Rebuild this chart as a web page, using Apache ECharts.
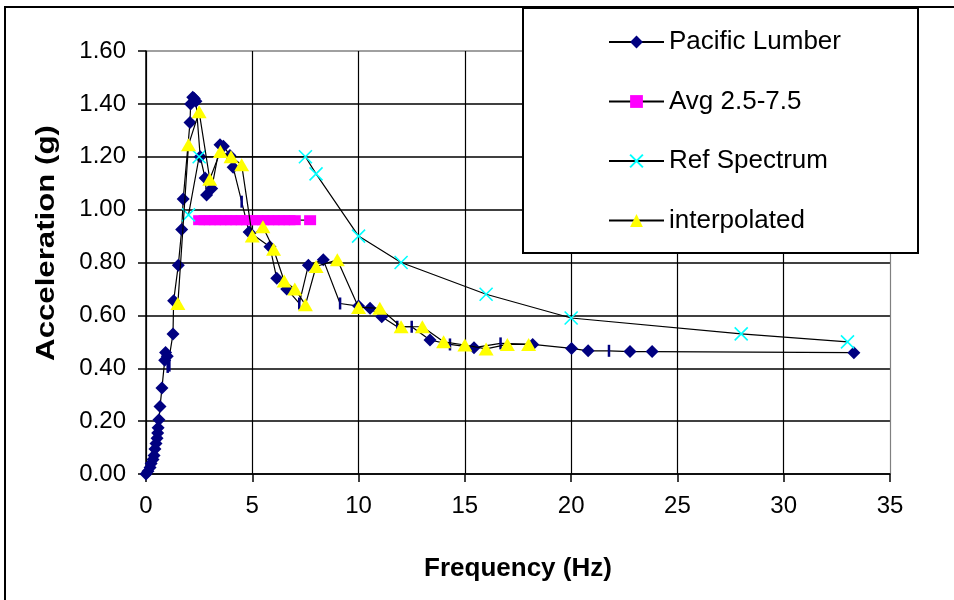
<!DOCTYPE html>
<html><head><meta charset="utf-8">
<script src="https://cdn.jsdelivr.net/npm/echarts@6/dist/echarts.min.js"></script>
<style>html,body{margin:0;padding:0;background:#fff}#c{width:954px;height:600px}</style>
</head><body><div id="c"></div>
<script>
// ---- data ----
const pacificFreq = [0,0.09,0.19,0.24,0.33,0.38,0.42,0.47,0.52,0.55,0.57,0.61,0.66,0.75,0.88,0.92,1.0,1.02,1.1,1.27,1.3,1.52,1.68,1.75,2.07,2.1,2.2,2.27,2.35,2.55,2.78,2.85,3.09,3.48,3.64,3.95,4.1,4.5,4.85,5.83,6.15,6.62,7.21,7.64,8.34,9.13,10.0,10.54,11.09,11.82,12.5,13.36,14.3,15.43,16.68,18.19,20.02,20.8,21.78,22.77,23.81,33.3];
const pacificAcc  = [0,0.01,0.025,0.04,0.055,0.07,0.095,0.115,0.135,0.155,0.175,0.205,0.255,0.325,0.43,0.46,0.445,0.405,0.41,0.53,0.655,0.79,0.925,1.04,1.33,1.40,1.425,1.42,1.41,1.2,1.12,1.055,1.08,1.245,1.24,1.205,1.16,1.03,0.915,0.86,0.74,0.70,0.645,0.79,0.81,0.645,0.635,0.627,0.595,0.557,0.557,0.507,0.49,0.478,0.494,0.49,0.475,0.466,0.466,0.463,0.463,0.459];
// points of the Pacific Lumber series shown with a dash marker
const pacificDashFreq = [1.02,1.1,4.5,7.21,9.13,11.82,12.5,14.3,16.68,21.78];

const avgFreq = [2.5,2.75,3,3.25,3.5,3.75,4,4.25,4.5,4.75,5,5.25,5.5,5.75,6,6.25,6.5,6.75,7,7.72];
const avgAcc  = [0.96,0.96,0.96,0.96,0.96,0.96,0.96,0.96,0.96,0.96,0.96,0.96,0.96,0.96,0.96,0.96,0.96,0.96,0.96,0.96];

const refFreq = [2,2.5,7.5,8,10,12,16,20,28,33];
const refAcc  = [0.98,1.2,1.2,1.135,0.9,0.8,0.68,0.59,0.53,0.50];

const interpFreq = [1.5,2,2.5,3,3.5,4,4.5,5,5.5,6,6.5,7,7.5,8,9,10,11,12,13,14,15,16,17,18];
const interpAcc  = [0.645,1.245,1.37,1.115,1.22,1.20,1.17,0.90,0.935,0.85,0.73,0.70,0.64,0.785,0.81,0.63,0.627,0.557,0.557,0.50,0.488,0.473,0.49,0.49];

const seriesNames = ['Pacific Lumber','Avg 2.5-7.5','Ref Spectrum','interpolated'];
const xTicks = [0,5,10,15,20,25,30,35];
const yTicks = ['0.00','0.20','0.40','0.60','0.80','1.00','1.20','1.40','1.60'];
const xTitle = 'Frequency (Hz)';
const yTitle = 'Acceleration (g)';

// ---- chart ----
const FONT = 'Liberation Sans, Arial, sans-serif';
const zip = (a,b) => a.map((v,i)=>[v,b[i]]);
const pacificData = pacificFreq.map((f,i)=>{
  const isDash = pacificDashFreq.indexOf(f) >= 0;
  return isDash ? {value:[f,pacificAcc[i]], symbol:'rect', symbolSize:[2.5,12]} : {value:[f,pacificAcc[i]]};
});
const crossPath = 'path://M0,0L10,10M10,0L0,10';

const chart = echarts.init(document.getElementById('c'), null, {renderer:'canvas'});
chart.setOption({
  animation:false,
  backgroundColor:'#fff',
  grid:{left:146, right:64, top:51, bottom:126, containLabel:false},
  xAxis:{
    type:'value', min:xTicks[0], max:xTicks[xTicks.length-1], interval:5,
    axisLine:{show:true, onZero:false, lineStyle:{color:'#000', width:1.5}},
    axisTick:{show:true, inside:false, length:8, lineStyle:{color:'#000', width:1.5}},
    axisLabel:{color:'#000', fontFamily:FONT, fontSize:24, margin:20},
    splitLine:{show:true, lineStyle:{color:['#000','#000','#000','#000','#000','#000','#000','#808080'], width:1.2}},
    name:xTitle, nameLocation:'middle', nameGap:82,
    nameTextStyle:{color:'#000', fontFamily:FONT, fontSize:26, fontWeight:'bold'}
  },
  yAxis:{
    type:'value', min:0, max:1.6, interval:0.2,
    axisLine:{show:true, onZero:false, lineStyle:{color:'#000', width:1.5}},
    axisTick:{show:true, inside:false, length:8, lineStyle:{color:'#000', width:1.5}},
    axisLabel:{color:'#000', fontFamily:FONT, fontSize:24, margin:20,
      formatter:(v)=>yTicks[Math.round(v/0.2)]},
    splitLine:{show:true, lineStyle:{color:['#000','#000','#000','#000','#000','#000','#000','#000','#808080'], width:1.6}}
  },
  legend:{
    orient:'vertical', left:603, top:22, z:20,
    itemWidth:55, itemHeight:16, itemGap:29.5,
    textStyle:{color:'#000', fontFamily:FONT, fontSize:26, lineHeight:30},
    data:seriesNames
  },
  graphic:[
    {type:'rect', shape:{x:5, y:7, width:1000, height:700}, style:{fill:'none', stroke:'#000', lineWidth:2}, z:-10},
    {type:'rect', shape:{x:523, y:8, width:395, height:245}, style:{fill:'#fff', stroke:'#000', lineWidth:2}, z:6},
    {type:'text', x:47, y:243, rotation:Math.PI/2, scaleX:1.2, style:{text:yTitle, fill:'#000', font:'bold 26px '+FONT, align:'center', verticalAlign:'middle'}, z:10}
  ],
  series:[
    {name:seriesNames[0], type:'line', data:pacificData, symbol:'diamond', symbolSize:13,
     lineStyle:{color:'#000', width:1.2}, itemStyle:{color:'#000080'}, z:2},
    {name:seriesNames[1], type:'line', data:zip(avgFreq,avgAcc), symbol:'rect', symbolSize:[12,10],
     lineStyle:{color:'#000', width:1.2}, itemStyle:{color:'#ff00ff'}, z:3},
    {name:seriesNames[2], type:'line', data:zip(refFreq,refAcc), symbol:crossPath, symbolSize:13,
     lineStyle:{color:'#000', width:1.2}, itemStyle:{color:'#00ffff', borderColor:'#00ffff', borderWidth:1.6}, z:4},
    {name:seriesNames[3], type:'line', data:zip(interpFreq,interpAcc), symbol:'triangle', symbolSize:[15,13],
     lineStyle:{color:'#000', width:1.2}, itemStyle:{color:'#ffff00'}, z:5}
  ]
});
</script></body></html>
